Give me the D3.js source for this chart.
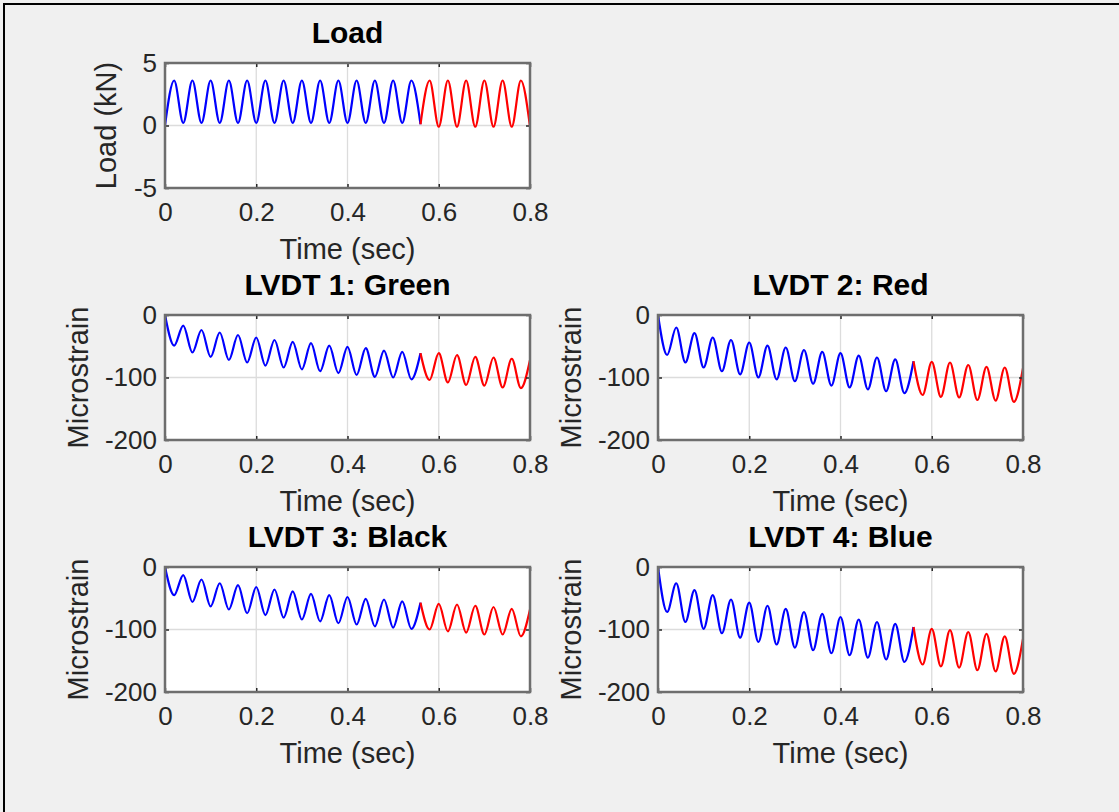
<!DOCTYPE html>
<html>
<head>
<meta charset="utf-8">
<script src="https://cdn.jsdelivr.net/npm/d3@7"></script>
<style>
  body { margin: 0; background: #f0f0f0; }
  text { font-family: "Liberation Sans", Arial, Helvetica, sans-serif; fill: #262626; }
</style>
</head>
<body>
<div id="vis-container"></div>
<script>
// sample times of the turning points (sec)
let times = [0, 0.02, 0.04, 0.06, 0.08, 0.10, 0.12, 0.14, 0.16, 0.18, 0.20,
  0.22, 0.24, 0.26, 0.28, 0.30, 0.32, 0.34, 0.36, 0.38, 0.40,
  0.42, 0.44, 0.46, 0.48, 0.50, 0.52, 0.54, 0.56, 0.58, 0.60,
  0.62, 0.64, 0.66, 0.68, 0.70, 0.72, 0.74, 0.76, 0.78, 0.80];

// blue part ends here, red part starts here
let splitTime = 0.56;

let loadKN = [0, 3.6, 0.2, 3.6, 0.2, 3.6, 0.2, 3.6, 0.2, 3.6, 0.2,
  3.6, 0.2, 3.6, 0.2, 3.6, 0.2, 3.6, 0.2, 3.6, 0.2,
  3.6, 0.2, 3.6, 0.2, 3.6, 0.2, 3.6, 0.1, 3.6, -0.1,
  3.6, -0.1, 3.6, -0.1, 3.6, -0.1, 3.6, -0.1, 3.6, -0.1];

let lvdt1 = [0, -49, -17, -60, -24, -67, -28, -72, -32, -76, -36,
  -81, -40, -84, -43, -87, -45, -90, -49, -93, -51,
  -96, -53, -99, -57, -100, -59, -103, -61, -104, -61,
  -108, -64, -112, -67, -113, -68, -116, -70, -117, -72];

let lvdt2 = [0, -64, -20, -76, -29, -84, -36, -90, -40, -95, -44,
  -100, -49, -103, -52, -106, -56, -110, -59, -113, -61,
  -116, -65, -119, -68, -122, -71, -125, -74, -128, -75,
  -131, -76, -132, -80, -136, -83, -137, -84, -139, -85];

let lvdt3 = [0, -45, -13, -56, -20, -63, -26, -68, -29, -74, -32,
  -77, -36, -81, -39, -84, -43, -87, -45, -90, -48,
  -92, -51, -95, -52, -97, -55, -99, -57, -100, -59,
  -103, -60, -105, -62, -108, -64, -108, -67, -111, -68];

let lvdt4 = [0, -72, -26, -88, -37, -99, -45, -106, -52, -113, -57,
  -120, -62, -124, -67, -129, -72, -133, -75, -138, -80,
  -141, -84, -145, -88, -148, -91, -152, -96, -156, -99,
  -159, -101, -161, -104, -165, -107, -167, -111, -171, -115];

let xTicks = [0, 0.2, 0.4, 0.6, 0.8];
let loadTicks = [-5, 0, 5];
let strainTicks = [-200, -100, 0];

let titles = ["Load", "LVDT 1: Green", "LVDT 2: Red", "LVDT 3: Black", "LVDT 4: Blue"];
let yLabels = ["Load (kN)", "Microstrain", "Microstrain", "Microstrain", "Microstrain"];
let xLabel = "Time (sec)";

// subplot boxes
let panels = [
  {left:165, top:63,  values:loadKN, domain:[-5,5],     ticks:loadTicks,   labelGap:49},
  {left:165, top:315, values:lvdt1,  domain:[-200,0],   ticks:strainTicks, labelGap:77},
  {left:658, top:315, values:lvdt2,  domain:[-200,0],   ticks:strainTicks, labelGap:77},
  {left:165, top:567, values:lvdt3,  domain:[-200,0],   ticks:strainTicks, labelGap:77},
  {left:658, top:567, values:lvdt4,  domain:[-200,0],   ticks:strainTicks, labelGap:77}
];
let pw = 365, ph = 125;

let svg = d3.select("#vis-container")
  .append("svg")
  .attr("width", 1119)
  .attr("height", 812);

svg.append("rect")
  .attr("width", 1119)
  .attr("height", 812)
  .attr("fill", "#f0f0f0");

// window frame
svg.append("path")
  .attr("d", "M4,812V4H1119")
  .attr("fill", "none")
  .attr("stroke", "#000")
  .attr("stroke-width", 2);

panels.forEach((p, i) => drawPanel(p, i));

function drawPanel(p, i){
  let g = svg.append("g")
    .attr("transform", `translate(${p.left}, ${p.top})`);

  let x = d3.scaleLinear().domain([0, 0.8]).range([0, pw]);
  let y = d3.scaleLinear().domain(p.domain).range([ph, 0]);

  g.append("rect")
    .attr("width", pw)
    .attr("height", ph)
    .attr("fill", "#fff");

  // grid
  g.selectAll(".xgrid")
    .data(xTicks)
    .enter().append("line")
    .attr("x1", d => x(d)).attr("x2", d => x(d))
    .attr("y1", 0).attr("y2", ph)
    .attr("stroke", "#dcdcdc")
    .attr("stroke-width", 1.3);

  g.selectAll(".ygrid")
    .data(p.ticks)
    .enter().append("line")
    .attr("x1", 0).attr("x2", pw)
    .attr("y1", d => y(d)).attr("y2", d => y(d))
    .attr("stroke", "#dcdcdc")
    .attr("stroke-width", 1.3);

  // data lines
  let pts = times.map((t, k) => ({t: t, v: p.values[k]}));
  let line = d3.line()
    .x(d => x(d.t))
    .y(d => y(d.v))
    .curve(d3.curveMonotoneX);

  g.append("path")
    .datum(pts.filter(d => d.t <= splitTime))
    .attr("d", line)
    .attr("fill", "none")
    .attr("stroke", "#0000ff")
    .attr("stroke-width", 2.2);

  g.append("path")
    .datum(pts.filter(d => d.t >= splitTime))
    .attr("d", line)
    .attr("fill", "none")
    .attr("stroke", "#ff0000")
    .attr("stroke-width", 2.2);

  // axes, ticks point inward
  let fmt = d => String(d);

  g.append("g")
    .attr("transform", `translate(0,${ph})`)
    .call(d3.axisBottom(x).tickValues(xTicks).tickSize(-4).tickPadding(15).tickFormat(fmt))
    .call(styleAxis);

  g.append("g")
    .call(d3.axisTop(x).tickValues(xTicks).tickSize(-4).tickFormat(""))
    .call(styleAxis);

  g.append("g")
    .call(d3.axisLeft(y).tickValues(p.ticks).tickSize(-4).tickPadding(8).tickFormat(fmt))
    .call(styleAxis);

  g.append("g")
    .attr("transform", `translate(${pw},0)`)
    .call(d3.axisRight(y).tickValues(p.ticks).tickSize(-4).tickFormat(""))
    .call(styleAxis);

  // box
  g.append("rect")
    .attr("width", pw)
    .attr("height", ph)
    .attr("fill", "none")
    .attr("stroke", "#6e6e6e")
    .attr("stroke-width", 2.5);

  // title
  g.append("text")
    .attr("x", pw/2)
    .attr("y", -20)
    .attr("text-anchor", "middle")
    .attr("font-size", "30px")
    .attr("font-weight", "bold")
    .style("fill", "#000")
    .text(titles[i]);

  // x label
  g.append("text")
    .attr("x", pw/2)
    .attr("y", ph + 71)
    .attr("text-anchor", "middle")
    .attr("font-size", "29px")
    .text(xLabel);

  // y label
  g.append("text")
    .attr("transform", `translate(${-p.labelGap}, ${ph/2}) rotate(-90)`)
    .attr("text-anchor", "middle")
    .attr("font-size", "29px")
    .text(yLabels[i]);
}

function styleAxis(sel){
  sel.select(".domain").remove();
  sel.selectAll(".tick line")
    .attr("stroke", "#262626")
    .attr("stroke-width", 1.5);
  sel.selectAll(".tick text")
    .attr("font-size", "26px")
    .attr("font-family", null)
    .style("fill", "#262626");
}
</script>
</body>
</html>
